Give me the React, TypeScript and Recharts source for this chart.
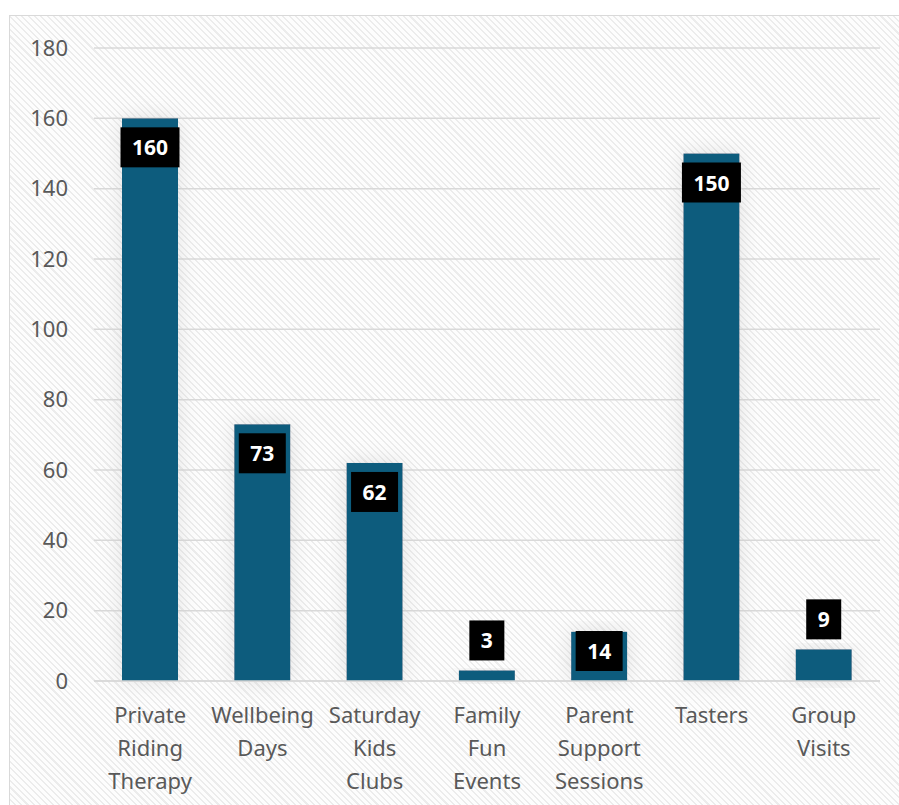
import React from "react";
import { BarChart, Bar, XAxis, YAxis, CartesianGrid, LabelList } from "recharts";

const categories = [
  "Private Riding Therapy",
  "Wellbeing Days",
  "Saturday Kids Clubs",
  "Family Fun Events",
  "Parent Support Sessions",
  "Tasters",
  "Group Visits",
];
const values = [160, 73, 62, 3, 14, 150, 9];
const yTicks = [0, 20, 40, 60, 80, 100, 120, 140, 160, 180];

const data = categories.map((name, i) => ({ name, value: values[i] }));

const BAR = "#0f5b7d";
const TEXT = "#595959";
const FONT = "'Noto Sans', 'Open Sans', sans-serif";

const CategoryTick = (props: any) => {
  const { x, y, payload } = props;
  const lines = String(payload.value).split(" ");
  return (
    <text x={x} y={y} textAnchor="middle" fill={TEXT} fontSize={22} fontFamily={FONT}>
      {lines.map((line, i) => (
        <tspan key={i} x={x} dy={i === 0 ? 34 : 33}>
          {line}
        </tspan>
      ))}
    </text>
  );
};

const ValueLabel = (props: any) => {
  const { x, y, width, height, value } = props;
  const base = y + height;
  const boxH = 40;
  let top: number;
  if (height >= 45) {
    top = Math.min(y + 9, base - boxH - 10);
  } else {
    top = y - boxH - 10;
  }
  const boxW = String(value).length * 12 + 23;
  const cx = x + width / 2;
  return (
    <g>
      <rect x={cx - boxW / 2} y={top} width={boxW} height={boxH} fill="#000" />
      <text
        x={cx}
        y={top + boxH / 2 + 8}
        textAnchor="middle"
        fill="#fff"
        fontSize={21}
        fontWeight="bold"
        fontFamily={FONT}
      >
        {value}
      </text>
    </g>
  );
};

const ShadowBar = (props: any) => {
  const { x, y, width, height } = props;
  return <rect x={x} y={y} width={width} height={height} fill={BAR} filter="url(#barGlow)" />;
};

export default function App() {
  return (
    <div
      style={{
        position: "absolute",
        left: 9,
        top: 15,
        width: 890,
        height: 790,
        overflow: "hidden",
        boxSizing: "border-box",
        borderTop: "1.5px solid #d9d9d9",
        borderLeft: "1.5px solid #d9d9d9",
        backgroundColor: "#fdfdfd",
        backgroundImage:
          "repeating-linear-gradient(45deg, #fdfdfd 0px, #fdfdfd 3px, #ececec 3px, #ececec 4.5px)",
      }}
    >
      <BarChart
        width={888}
        height={788}
        data={data}
        margin={{ top: 32, right: 18, bottom: 13, left: 0 }}
        barSize={56}
      >
        <defs>
          <filter id="barGlow" x="-60%" y="-20%" width="220%" height="140%">
            <feDropShadow dx="0" dy="0" stdDeviation="10" floodColor="#bdbdbd" floodOpacity="0.45" />
          </filter>
        </defs>
        <CartesianGrid vertical={false} stroke="#d9d9d9" strokeWidth={1.5} />
        <XAxis
          dataKey="name"
          axisLine={{ stroke: "#d9d9d9", strokeWidth: 1.5 }}
          tickLine={false}
          height={110}
          interval={0}
          tick={<CategoryTick />}
        />
        <YAxis
          domain={[0, 180]}
          ticks={yTicks}
          axisLine={false}
          tickLine={false}
          tickSize={0}
          tickMargin={26}
          width={84}
          tick={{ fill: TEXT, fontSize: 22, fontFamily: FONT }}
        />
        <Bar dataKey="value" fill={BAR} shape={<ShadowBar />} isAnimationActive={false}>
          <LabelList dataKey="value" content={<ValueLabel />} />
        </Bar>
      </BarChart>
    </div>
  );
}
